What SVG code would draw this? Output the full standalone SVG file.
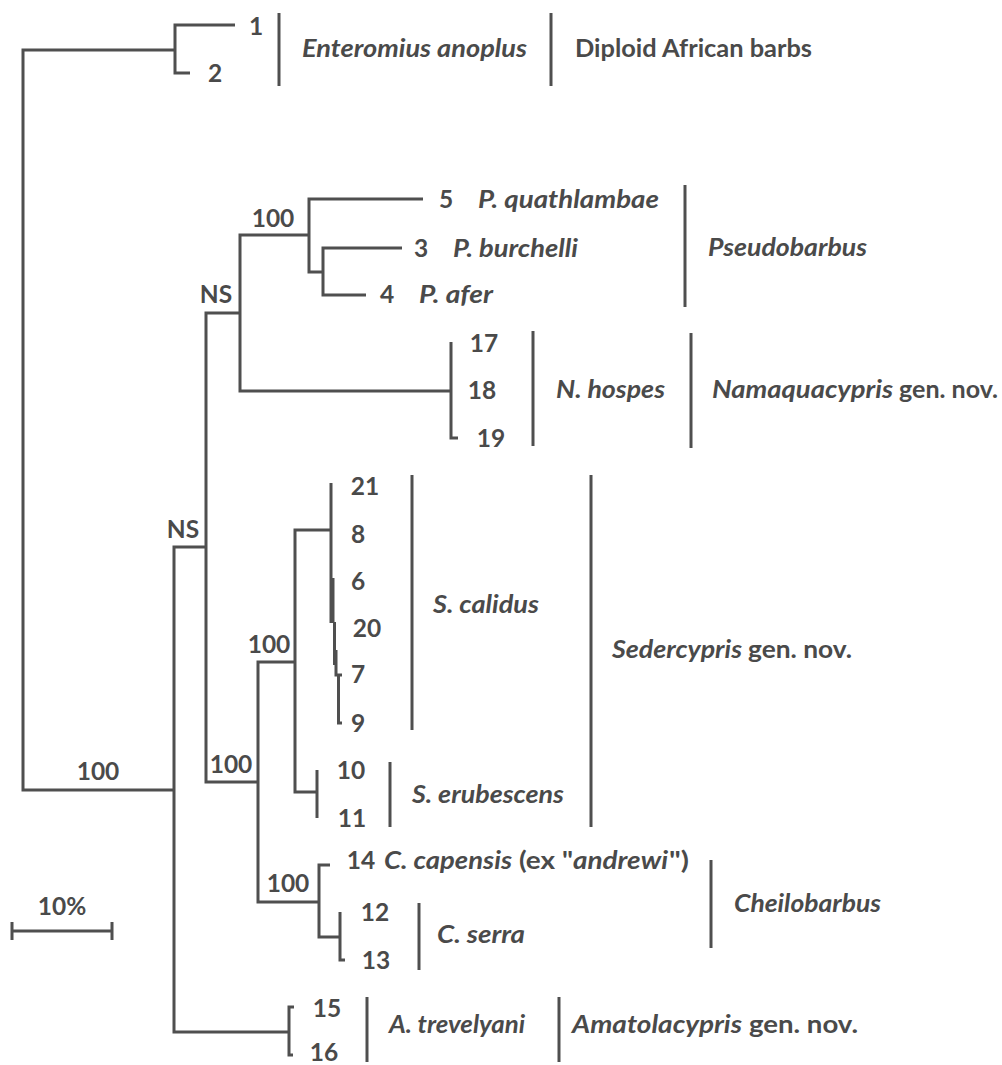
<svg xmlns="http://www.w3.org/2000/svg" width="1002" height="1065" viewBox="0 0 1002 1065">
<style>
.br{fill:none;stroke:#4f4f4f;stroke-width:3;stroke-linejoin:miter;stroke-linecap:butt}
.bar{stroke:#4f4f4f;stroke-width:3}
text{font-family:Lato,"Open Sans","Liberation Sans",sans-serif;font-size:24.5px;fill:#4a4a4a;font-weight:bold}
.n{text-anchor:middle}
.i{font-style:italic}
</style>
<rect width="1002" height="1065" fill="#ffffff"/>
<g id="connectors">
<path class="br" d="M175,50 H23 V790 H174"/>
<path class="br" d="M235,25 H175 V73 H190"/>
<path class="br" d="M206,547 H174 V1032 H289"/>
<path class="br" d="M240,313 H206 V782 H258"/>
<path class="br" d="M309,235 H240 V391 H451"/>
<path class="br" d="M423,199 H309 V272 H323"/>
<path class="br" d="M402,248 H323 V295 H366"/>
<path class="br" d="M451,342 V438 H458"/>
<path class="br" d="M295,662 H258 V902 H319"/>
<path class="br" d="M331,530 H295 V792 H317"/>
<path class="br" d="M317,770 V818"/>
<path class="br" d="M331,483 V578"/>
<path class="br" d="M332,578 V623" style="stroke-width:5"/>
<path class="br" d="M334.5,622 V665"/>
<path class="br" d="M336,650 V675 H342"/>
<path class="br" d="M338.5,675 V723 H342"/>
<path class="br" d="M330,865 H319 V937 H340"/>
<path class="br" d="M340,912 V960 H345"/>
<path class="br" d="M294,1007 H289 V1055 H293"/>
</g>
<g id="scale">
<path class="br" d="M12,931 H112 M12,922 V940 M112,922 V940"/>
<text class="n" x="62" y="915">10%</text>
</g>
<g id="support">
<text class="n" x="273" y="227">100</text>
<text class="n" x="216" y="303">NS</text>
<text class="n" x="183" y="538">NS</text>
<text class="n" x="231" y="773">100</text>
<text class="n" x="269" y="653">100</text>
<text class="n" x="288" y="892">100</text>
<text class="n" x="98" y="780">100</text>
</g>
<g id="enteromius">
<text class="n" x="256" y="35">1</text>
<text class="n" x="215" y="82">2</text>
<line class="bar" x1="279" y1="13" x2="279" y2="86"/>
<text class="i" x="302" y="57" textLength="225" lengthAdjust="spacingAndGlyphs">Enteromius anoplus</text>
<line class="bar" x1="551" y1="13" x2="551" y2="86"/>
<text x="575" y="57" textLength="237" lengthAdjust="spacingAndGlyphs">Diploid African barbs</text>
</g>
<g id="pseudobarbus">
<text class="n" x="446" y="208">5</text>
<text class="i" x="478" y="208" textLength="181" lengthAdjust="spacingAndGlyphs">P. quathlambae</text>
<text class="n" x="421" y="257">3</text>
<text class="i" x="453" y="257" textLength="125" lengthAdjust="spacingAndGlyphs">P. burchelli</text>
<text class="n" x="387" y="303">4</text>
<text class="i" x="419" y="303" textLength="74" lengthAdjust="spacingAndGlyphs">P. afer</text>
<line class="bar" x1="685" y1="185" x2="685" y2="307"/>
<text class="i" x="708" y="256" textLength="159" lengthAdjust="spacingAndGlyphs">Pseudobarbus</text>
</g>
<g id="namaquacypris">
<text class="n" x="484" y="352">17</text>
<text class="n" x="482" y="399">18</text>
<text class="n" x="491" y="447">19</text>
<line class="bar" x1="533" y1="331" x2="533" y2="446"/>
<text class="i" x="556" y="398" textLength="109" lengthAdjust="spacingAndGlyphs">N. hospes</text>
<line class="bar" x1="691" y1="333" x2="691" y2="448"/>
<text y="398"><tspan class="i" x="712" textLength="181" lengthAdjust="spacingAndGlyphs">Namaquacypris</tspan><tspan x="899" textLength="99" lengthAdjust="spacingAndGlyphs">gen. nov.</tspan></text>
</g>
<g id="sedercypris">
<text class="n" x="365" y="495">21</text>
<text class="n" x="358" y="543">8</text>
<text class="n" x="358" y="590">6</text>
<text class="n" x="367" y="637">20</text>
<text class="n" x="358" y="683">7</text>
<text class="n" x="358" y="732">9</text>
<line class="bar" x1="412" y1="475" x2="412" y2="730"/>
<text class="i" x="433" y="613" textLength="106" lengthAdjust="spacingAndGlyphs">S. calidus</text>
<text class="n" x="351" y="779">10</text>
<text class="n" x="352" y="827">11</text>
<line class="bar" x1="390" y1="762" x2="390" y2="827"/>
<text class="i" x="412" y="803" textLength="152" lengthAdjust="spacingAndGlyphs">S. erubescens</text>
<line class="bar" x1="591" y1="475" x2="591" y2="827"/>
<text y="658"><tspan class="i" x="612" textLength="130" lengthAdjust="spacingAndGlyphs">Sedercypris</tspan><tspan x="748" textLength="104" lengthAdjust="spacingAndGlyphs">gen. nov.</tspan></text>
</g>
<g id="cheilobarbus">
<text class="n" x="361" y="869">14</text>
<text y="869"><tspan class="i" x="384" textLength="128" lengthAdjust="spacingAndGlyphs">C. capensis</tspan><tspan x="519" textLength="54" lengthAdjust="spacingAndGlyphs">(ex "</tspan><tspan class="i" x="573" textLength="95" lengthAdjust="spacingAndGlyphs">andrewi</tspan><tspan x="669" textLength="20" lengthAdjust="spacingAndGlyphs">")</tspan></text>
<text class="n" x="375" y="921">12</text>
<text class="n" x="376" y="969">13</text>
<line class="bar" x1="419" y1="903" x2="419" y2="970"/>
<text class="i" x="437" y="943" textLength="88" lengthAdjust="spacingAndGlyphs">C. serra</text>
<line class="bar" x1="711" y1="860" x2="711" y2="948"/>
<text class="i" x="734" y="912" textLength="147" lengthAdjust="spacingAndGlyphs">Cheilobarbus</text>
</g>
<g id="amatolacypris">
<text class="n" x="327" y="1017">15</text>
<text class="n" x="324" y="1061">16</text>
<line class="bar" x1="367" y1="997" x2="367" y2="1062"/>
<text class="i" x="389" y="1033" textLength="136" lengthAdjust="spacingAndGlyphs">A. trevelyani</text>
<line class="bar" x1="559" y1="997" x2="559" y2="1062"/>
<text y="1033"><tspan class="i" x="572" textLength="170" lengthAdjust="spacingAndGlyphs">Amatolacypris</tspan><tspan x="749" textLength="109" lengthAdjust="spacingAndGlyphs">gen. nov.</tspan></text>
</g>
</svg>
